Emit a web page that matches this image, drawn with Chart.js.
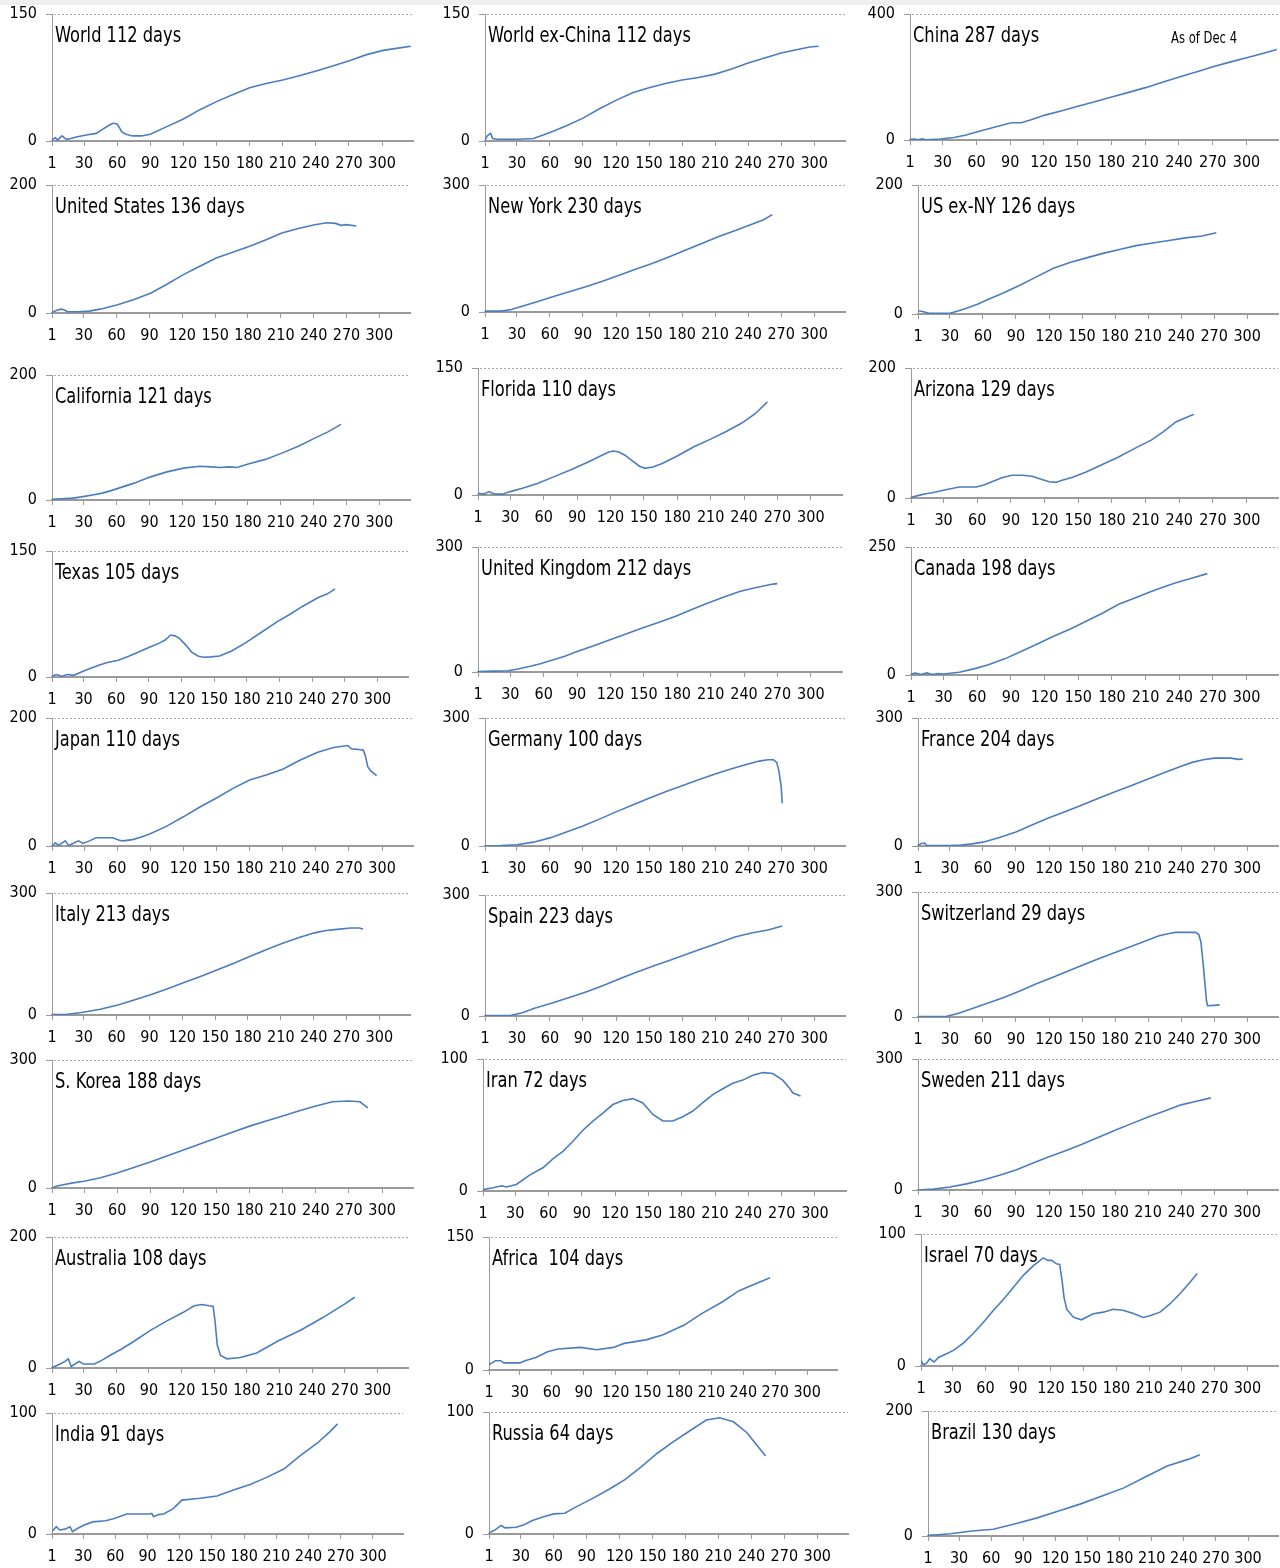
<!DOCTYPE html>
<html><head><meta charset="utf-8">
<script src="https://cdn.jsdelivr.net/npm/chart.js@4"></script>
<style>
html,body{margin:0;padding:0;background:#fff}
body{width:1280px;height:1568px;position:relative;overflow:hidden}
#band{position:absolute;left:0;top:0;width:1280px;height:5px;background:#efefef}
.panel{position:absolute}
</style></head><body>
<div id="band"></div>
<script>
// ---- DATA: [day, value] pairs ----
const xTickLabels = [1,30,60,90,120,150,180,210,240,270,300];
const world = [[1,1],[4,4],[6,1],[10,6],[14,2],[18,3],[24,5],[32,7],[41,9],[47,14],[52,18],[56,21],[60,20],[62,16],[64,11],[68,8],[74,6],[82,6],[90,8],[105,17],[120,26],[135,37],[150,46.5],[165,55],[180,63],[195,68],[210,72],[225,77],[241,83],[256,89],[271,95],[286,102],[301,107],[316,110],[326,112]];
const worldExChina = [[1,1],[3,6],[6,9],[8,3],[12,2],[20,2],[30,2],[45,3],[60,10],[75,18],[90,27],[105,38],[120,48],[135,57],[150,63],[165,68],[180,72],[195,75],[210,79],[225,85],[240,92],[255,98],[270,104],[285,108],[296,111],[304,112]];
const china = [[1,2],[5,3],[8,1],[12,4],[15,1],[28,3],[40,8],[50,15],[61,26],[75,40],[91,55],[100,55],[110,66],[121,79],[136,93],[151,108],[166,122],[181,137],[196,152],[211,167],[226,184],[241,201],[256,217],[271,233],[286,248],[301,262],[316,276],[327,287]];
const unitedStates = [[1,1],[5,4],[9,6],[12,5],[15,2],[25,2],[35,3],[45,6],[61,13],[76,21],[91,31],[106,45],[121,60],[136,73],[151,86],[166,95],[181,104],[196,114],[211,125],[226,132],[241,138],[252,141],[260,140],[265,137],[270,138],[279,136]];
const newYork = [[1,2],[16,2],[25,6],[34,13],[49,25],[64,37],[79,49],[94,61],[109,74],[124,88],[139,102],[154,116],[169,131],[184,147],[199,163],[214,179],[229,193],[244,208],[254,218],[262,230]];
const usExNY = [[1,5],[5,4],[11,1],[20,1],[30,1],[38,5],[45,9],[55,15],[64,22],[79,33],[94,45],[109,58],[124,71],[139,80],[154,87],[169,94],[184,100],[199,106],[214,110],[229,114],[244,118],[259,121],[272,126]];
const california = [[1,1],[10,2],[20,3],[28,5],[38,8],[47,11],[55,15],[62,19],[76,27],[91,37],[106,45],[121,51],[136,54],[146,53],[155,52],[163,53],[170,52],[181,58],[196,65],[211,75],[226,86],[241,99],[253,109],[265,121]];
const florida = [[1,2],[6,1],[11,4],[16,1],[23,1],[30,4],[41,8],[55,14],[70,22],[85,30],[100,39],[111,46],[117,50],[122,52],[127,51],[133,47],[140,40],[146,34],[151,31.5],[158,33],[166,37],[180,46],[195,57],[210,66],[224,75],[238,85],[250,96],[261,110]];
const arizona = [[1,1],[8,4],[14,6.6],[20,8],[33,13],[44,17],[59,17],[66,20],[73,25],[82,31],[91,35],[100,35],[109,33.5],[117,29],[124,25],[130,24],[135,27],[145,32],[157,40],[171,51],[186,63],[200,76],[215,89],[226,102],[237,117],[253,129]];
const texas = [[1,1],[5,3],[10,1],[15,3],[21,2],[28,6],[36,10],[44,14],[51,17],[62,20],[72,25],[81,30],[90,35],[99,40],[105,44],[110,50],[114,49],[118,46],[124,38],[129,30],[135,25],[140,23.5],[147,24],[155,25],[166,31],[178,40],[193,53],[208,66],[220,75],[231,84],[246,95],[254,99],[261,105]];
const unitedKingdom = [[1,1],[15,2],[28,3],[37,7],[47,13],[57,20],[68,29],[79,38],[90,49],[105,63],[119,77],[134,91],[148,105],[163,119],[178,133],[192,149],[207,165],[222,180],[236,193],[251,203],[266,211],[270,212]];
const canada = [[1,2],[5,4],[10,1],[15,4],[20,1],[25,3],[30,2],[44,5.5],[57,12],[70,20],[85,32],[99,46],[114,61],[128,75.5],[143,90],[157,105],[172,121],[186,138],[201,151],[215,163],[226,172],[237,180],[251,189],[265,198]];
const japan = [[1,0],[4,5],[7,1],[13,8],[16,1],[20,4],[25,8],[29,4],[35,8],[41,13],[56,13],[62,9],[65,8],[74,10],[82,14],[90,19],[105,31],[120,45.6],[135,61],[150,75],[165,90],[180,103],[195,111],[210,120],[225,133.5],[241,146],[256,154],[269,157],[272,152],[283,150],[285,140],[287,124],[290,117],[295,110]];
const germany = [[1,0],[15,1],[30,3],[45,9],[60,19],[75,33],[90,47],[105,63],[120,80],[135,96],[150,112],[165,127],[180,141],[195,155],[210,169],[225,181],[240,192],[250,199],[258,202],[263,202],[266,196],[268,175],[270,140],[271,100]];
const france = [[1,1],[4,6],[7,7],[9,1],[20,1],[30,1],[40,2],[50,5],[60,9],[75,20],[90,33],[105,50],[120,66],[135,81],[150,96],[165,112],[180,127],[195,142],[210,157],[225,172],[240,187],[250,196],[260,202],[270,206],[285,206],[292,203],[296,204]];
const italy = [[1,1],[15,2],[28,6],[45,14],[62,25],[76,37],[91,50],[106,64],[121,79],[136,94],[151,110],[166,126],[181,143],[196,160],[211,176],[226,190],[241,202],[250,207],[259,210],[274,214],[282,214],[285,211]];
const spain = [[1,1],[24,1],[35,8],[46,19],[62,32],[79,47],[94,61],[109,76],[124,93],[139,109],[154,124],[169,138],[184,153],[198,167],[213,181],[228,196],[243,206],[258,213],[271,223]];
const switzerland = [[1,1],[15,1],[27,1.5],[38,9],[49,19],[64,33],[79,47],[94,63],[108,79],[123,95],[138,111],[153,127],[168,143],[183,158],[198,173],[210,185],[220,195],[228,200],[235,203],[245,203],[253,203],[256,198],[258,180],[260,128],[262,70],[263,40],[264,27],[270,28],[275,29]];
const southKorea = [[1,0],[5,4],[10,7],[20,12],[30,16],[45,24],[60,35],[75,48],[90,61],[105,75],[120,89],[135,103],[150,117],[165,131],[180,145],[195,157],[210,169],[225,181],[240,192],[255,202],[270,204],[280,202],[287,188]];
const iran = [[1,1],[10,2.5],[18,4],[22,3],[31,5],[43,12],[55,17.6],[64,24.4],[73,30],[82,37.7],[91,46],[100,53],[109,59],[118,65.5],[127,68.6],[136,70],[145,66.7],[154,58],[163,53],[172,53],[181,56.3],[190,60.6],[199,67],[208,73],[217,77.5],[226,81.6],[235,84],[244,87.7],[253,89.7],[262,89],[271,84],[277,78],[280,74.4],[287,72]];
const sweden = [[1,0],[15,2],[30,7],[45,14],[60,23],[75,34],[90,46],[105,61],[120,76],[135,90],[150,105],[165,121],[180,137],[195,152],[210,167],[225,181],[240,195],[255,204],[267,211]];
const australia = [[1,0.5],[8.5,6],[13,10],[16,14],[18.6,2.4],[22,6],[26,10],[30,6],[40,6],[47,12],[54,19],[65,29],[76,40.5],[91,57],[106.6,72],[121.6,85],[131.7,95],[139,97],[145,95],[149,94],[150.8,71],[152.8,35],[155.8,19],[161.8,14],[174,16],[189,23],[209,41.5],[229.7,58],[249.8,77],[270,98],[279,108]];
const africa = [[1,5],[2,6.8],[7,10.5],[12,10.5],[15,8],[30,8],[35,10.5],[45,14],[56,20.6],[66,23.6],[87,25.5],[102,22.9],[118,25.5],[128,30],[148.5,34],[164,39.5],[184.5,50.7],[200,63],[220.5,77],[236,89.5],[251,97],[265,104]];
const israel = [[1,4.3],[3,1],[6,2],[9,5.5],[13,3],[17,6.5],[24.5,9.3],[30.6,11.8],[39.8,17.3],[49,24.8],[58,33],[67,41.9],[76,50],[85.5,59.4],[94.7,68.7],[104,76],[113,81.9],[117,80],[120.7,80],[125,77.4],[128,77],[130,66],[132,52],[134.5,43],[140.5,37],[148,35],[158.8,39.6],[168,40.8],[177,43],[186,42.3],[195,40],[204.6,36.8],[210.7,38],[219.9,40.8],[229,47],[238,54.5],[247,63],[254,70]];
const india = [[1,2],[5,6],[8,3.3],[13,4],[17.8,6],[20,2],[25,4.7],[31,7.4],[39,10],[51,11],[59.7,13],[70.6,16.5],[92,16.5],[94,17],[95.7,14.3],[100,16],[105,16.5],[114,21],[122,28],[139,29.5],[154.7,31.4],[170,36.4],[185.6,41],[201,46.8],[217,53.7],[232,64.5],[248,75],[260,84.6],[267,91]];
const russia = [[1,1],[6,3],[12,7],[15.8,5],[25.7,5.5],[33,7.6],[40.5,11],[50,14],[60,16.5],[70,17],[80,22],[95,29],[110,36.5],[124.8,44.5],[139.6,55],[154,66],[169,75.7],[184,84.6],[199,93.4],[211,95.3],[223.7,92],[236,83],[243,75],[253,64]];
const brazil = [[1,1],[10,2],[22,3.7],[42,8],[62,10.7],[82.7,19.7],[103,29],[123,40],[143,51],[163.6,64],[184,77],[204,94.5],[224.4,112],[244.7,123],[255,130]];

const titles = ['World 112 days','World ex-China 112 days','China 287 days','United States 136 days','New York 230 days','US ex-NY 126 days','California 121 days','Florida 110 days','Arizona 129 days','Texas 105 days','United Kingdom 212 days','Canada 198 days','Japan 110 days','Germany 100 days','France 204 days','Italy 213 days','Spain 223 days','Switzerland 29 days','S. Korea 188 days','Iran 72 days','Sweden 211 days','Australia 108 days','Africa  104 days','Israel 70 days','India 91 days','Russia 64 days','Brazil 130 days'];
const yMax = [150,150,400,200,300,200,200,150,200,150,300,250,200,300,300,300,300,300,300,100,300,200,150,100,100,100,200];
const series = [world,worldExChina,china,unitedStates,newYork,usExNY,california,florida,arizona,texas,unitedKingdom,canada,japan,germany,france,italy,spain,switzerland,southKorea,iran,sweden,australia,africa,israel,india,russia,brazil];
const note = 'As of Dec 4';

// ---- LAYOUT (positions only) : axis x, top gridline y, zero y, axis right end ----
const frames = [[52,14,141,413],[485,14,141,845],[910,14,140,1278],
[52,185,313,410],[485,185,312,845],[918,185,314,1278],
[52,375,500,410],[478,368,495,842],[911,368,498,1278],
[52,551,677,408],[478,547,672,842],[911,547,675,1278],
[52,718,846,413],[485,718,846,845],[918,718,846,1278],
[52,893,1015,410],[485,895,1016,845],[918,892,1017,1278],
[52,1060,1188,413],[483,1059,1191,846],[918,1059,1190,1278],
[52,1237,1368,408],[489,1237,1370,837],[921,1234,1366,1278],
[52,1413,1534,403],[489,1412,1534,848],[928,1411,1536,1278]];

const FONT = "'Liberation Sans Narrow','Arial Narrow','DejaVu Sans Condensed',sans-serif";
const Y_W = 52, PAD_T = 22, PAD_R = 2, X_H = 38;
const X_MIN = 1, X_MAX = 328;
const LINE = '#4a7dc0', AXIS = '#9a9a9a';
const SQUEEZE = 0.86;

const deco = {
  id: 'deco',
  beforeDatasetsDraw(chart, args, o) {
    const {ctx, chartArea: a, scales: {y}} = chart;
    const yt = Math.round(y.getPixelForValue(y.max)) + 0.5;
    ctx.save();
    ctx.strokeStyle = '#a8a8a8'; ctx.lineWidth = 1; ctx.setLineDash([2, 2]);
    ctx.beginPath(); ctx.moveTo(a.left + 2, yt); ctx.lineTo(a.right, yt); ctx.stroke();
    ctx.restore();
  },
  afterDatasetsDraw(chart, args, o) {
    const {ctx, chartArea: a} = chart;
    ctx.save();
    ctx.fillStyle = '#000'; ctx.textBaseline = 'middle'; ctx.textAlign = 'left';
    ctx.font = '21px ' + FONT;
    ctx.translate(a.left + 3, a.top + 23);
    ctx.scale(SQUEEZE, 1);
    ctx.fillText(o.title, 0, 0);
    ctx.restore();
    if (o.note) {
      ctx.save();
      ctx.fillStyle = '#000'; ctx.textBaseline = 'middle'; ctx.textAlign = 'left';
      ctx.font = '15px ' + FONT;
      ctx.translate(a.right - 107, a.top + 25);
      ctx.scale(SQUEEZE, 1);
      ctx.fillText(o.note, 0, 0);
      ctx.restore();
    }
  }
};

series.forEach((pts, i) => {
  const [ax, ty, zy, rx] = frames[i];
  const left = ax - Y_W, top = ty - PAD_T;
  const w = rx - left + PAD_R, h = (zy - ty) + PAD_T + X_H;
  const div = document.createElement('div');
  div.className = 'panel';
  div.style.cssText = `left:${left}px;top:${top}px;width:${w}px;height:${h}px`;
  const cv = document.createElement('canvas');
  cv.width = w; cv.height = h; cv.style.width = w + 'px'; cv.style.height = h + 'px';
  div.appendChild(cv); document.body.appendChild(div);
  const M = yMax[i];
  new Chart(cv, {
    type: 'line',
    data: { datasets: [{ data: pts.map(([x, y]) => ({x, y})), borderColor: LINE, borderWidth: 1.6,
      pointRadius: 0, tension: 0, fill: false }] },
    options: {
      responsive: false, animation: false, events: [],
      layout: { padding: { top: PAD_T, right: PAD_R, left: 0, bottom: 0 } },
      plugins: { legend: { display: false }, tooltip: { enabled: false },
        deco: { title: titles[i], note: i === 2 ? note : null } },
      scales: {
        x: { type: 'linear', min: X_MIN, max: X_MAX,
          afterBuildTicks: s => { s.ticks = xTickLabels.map(v => ({value: v})); },
          afterFit: s => { s.height = X_H; },
          grid: { drawOnChartArea: false, drawTicks: true, tickLength: 5, tickColor: AXIS, tickWidth: 1 },
          border: { color: AXIS, width: 2 },
          ticks: { color: '#000', padding: 8, maxRotation: 0, autoSkip: false,
            font: { family: FONT, size: 16 }, callback: v => String(v) } },
        y: { type: 'linear', min: 0, max: M,
          afterBuildTicks: s => { s.ticks = [{value: 0}, {value: M}]; },
          afterFit: s => { s.width = Y_W; },
          grid: { drawOnChartArea: false, drawTicks: true, tickLength: 6, tickColor: AXIS, tickWidth: 1 },
          border: { color: AXIS, width: 1 },
          ticks: { color: '#000', padding: 9, font: { family: FONT, size: 16 }, callback: v => String(v) } }
      }
    },
    plugins: [deco]
  });
});
</script>
</body></html>
